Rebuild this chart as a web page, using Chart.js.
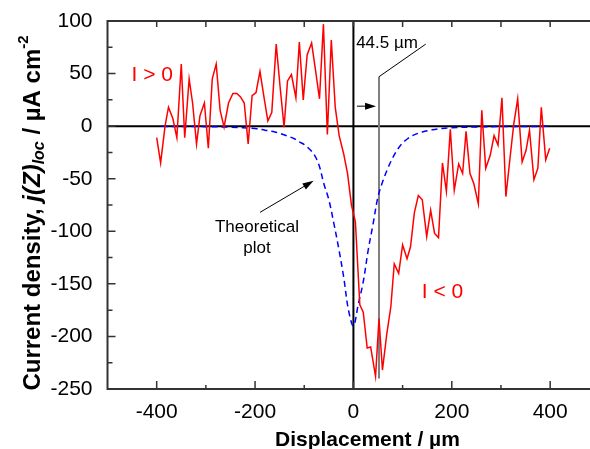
<!DOCTYPE html>
<html>
<head>
<meta charset="utf-8">
<script src="https://cdn.jsdelivr.net/npm/chart.js@4/dist/chart.umd.min.js"></script>
<style>
  body { margin: 0; background: #fff; }
  #wrap { width: 590px; height: 449px; }
</style>
</head>
<body>
<div id="wrap"><canvas id="chart" width="590" height="449"></canvas></div>
<script>
// measured current density (red)
const redX = [-400, -392, -383, -376, -367, -359, -350, -343, -334, -327, -319, -312, -303, -295, -287, -279, -271, -263, -254, -245,
  -237, -230, -222, -214, -206, -198, -190, -182, -174, -166, -157, -149, -141, -134, -126, -117, -110, -102, -94, -85,
  -77, -69, -61, -53, -45, -37, -29, -20, -12, -4, 4, 13, 20, 28, 35, 45, 52, 59, 68, 76,
  83, 92, 100, 109, 116, 124, 132, 140, 149, 157, 165, 173, 181, 189, 197, 205, 214, 222, 229, 237,
  245, 254, 261, 269, 278, 286, 294, 302, 310, 318, 326, 334, 343, 351, 358, 367, 375, 382, 391, 399];
const redY = [-11, -35, 0, 18, 7, -11, 59, -11, 45, 22, -17, 10, 22, -21, 45, 59, 15, -1, 22, 31,
  31, 28, 22, -17, 29, 32, 52, 28, 5, 13, 78, 37, -1, 43, 49, 27, 80, 25, 68, 79,
  53, 26, 97, -8, 82, 18, -9, -26, -45, -75, -91, -170, -177, -211, -210, -238, -183, -232, -197, -172,
  -131, -140, -113, -126, -115, -82, -66, -70, -105, -80, -102, -106, -35, -62, -3, -61, -36, -45, -5, -45,
  -55, -74, 15, -40, -28, -9, -18, 27, -67, -32, 2, 26, -34, -23, -4, -51, -40, 18, -32, -21];

// theoretical plot (blue dashed)
const blueX = [-390, -300, -250, -200, -180, -160, -140, -120, -110, -100, -90, -80, -70, -60, -50, -40, -30, -20, -10, 0,
  10, 20, 30, 40, 50, 60, 70, 80, 90, 100, 110, 120, 140, 160, 180, 200, 250, 300, 400];
const blueY = [-0.2, -0.5, -1, -2.2, -3.8, -5.5, -8.5, -12, -15, -17.5, -21.5, -27, -37, -55, -70, -92, -116, -143, -175, -190,
  -169, -148, -118, -93, -67, -52, -40, -30, -22, -16, -12, -9, -5.5, -3.5, -2.2, -1.5, -0.8, -0.4, -0.2];

const xTickVals = [-400, -200, 0, 200, 400];
const yTickVals = [-250, -200, -150, -100, -50, 0, 50, 100];

// 44.5 um marker
const markX = [52, 52, 147];
const markY = [-240, 47, 78];

const pts = (xs, ys) => xs.map((x, i) => ({ x: x, y: ys[i] }));

const FONT = "'Liberation Sans', Arial, sans-serif";

function arrow(ctx, x1, y1, x2, y2) {
  const a = Math.atan2(y2 - y1, x2 - x1);
  ctx.beginPath();
  ctx.moveTo(x1, y1);
  ctx.lineTo(x2 - 8 * Math.cos(a), y2 - 8 * Math.sin(a));
  ctx.stroke();
  ctx.beginPath();
  ctx.moveTo(x2, y2);
  ctx.lineTo(x2 - 11 * Math.cos(a) + 3.5 * Math.sin(a), y2 - 11 * Math.sin(a) - 3.5 * Math.cos(a));
  ctx.lineTo(x2 - 11 * Math.cos(a) - 3.5 * Math.sin(a), y2 - 11 * Math.sin(a) + 3.5 * Math.cos(a));
  ctx.closePath();
  ctx.fill();
}

const decor = {
  id: "decor",
  afterDraw(chart) {
    const ctx = chart.ctx;
    const xs = chart.scales.x, ys = chart.scales.y;
    const a = chart.chartArea;
    ctx.save();
    // frame
    ctx.strokeStyle = "#333";
    ctx.lineWidth = 2;
    ctx.beginPath();
    ctx.moveTo(a.right + 2, a.top);
    ctx.lineTo(a.left, a.top);
    ctx.lineTo(a.left, a.bottom);
    ctx.lineTo(a.right + 2, a.bottom);
    ctx.stroke();
    // inward ticks
    ctx.lineWidth = 1.5;
    ctx.beginPath();
    for (let v = -400; v <= 400; v += 100) {
      const px = xs.getPixelForValue(v);
      const len = v % 200 === 0 ? 8 : 4;
      ctx.moveTo(px, a.bottom);
      ctx.lineTo(px, a.bottom - len);
      ctx.moveTo(px, a.top);
      ctx.lineTo(px, a.top + 6);
    }
    for (let v = -225; v <= 100; v += 25) {
      const py = ys.getPixelForValue(v);
      const len = v % 50 === 0 ? 8 : 5;
      ctx.moveTo(a.left, py);
      ctx.lineTo(a.left + len, py);
    }
    ctx.stroke();

    // annotations
    ctx.fillStyle = "#000";
    ctx.strokeStyle = "#000";
    ctx.lineWidth = 1;
    arrow(ctx, xs.getPixelForValue(7), ys.getPixelForValue(19), xs.getPixelForValue(46), ys.getPixelForValue(19));
    arrow(ctx, xs.getPixelForValue(-190), ys.getPixelForValue(-82), xs.getPixelForValue(-81), ys.getPixelForValue(-52));

    ctx.font = "17px " + FONT;
    ctx.textBaseline = "middle";
    ctx.textAlign = "left";
    ctx.fillText("44.5 \u00b5m", xs.getPixelForValue(5.5), ys.getPixelForValue(79));
    ctx.textAlign = "center";
    ctx.fillText("Theoretical", xs.getPixelForValue(-196), ys.getPixelForValue(-96));
    ctx.fillText("plot", xs.getPixelForValue(-196), ys.getPixelForValue(-116.5));

    ctx.fillStyle = "#f00";
    ctx.font = "21px " + FONT;
    ctx.fillText("I > 0", xs.getPixelForValue(-409), ys.getPixelForValue(48));
    ctx.fillText("I < 0", xs.getPixelForValue(181), ys.getPixelForValue(-158));

    // x axis title
    ctx.fillStyle = "#000";
    ctx.font = "bold 21px " + FONT;
    ctx.fillText("Displacement / \u00b5m", xs.getPixelForValue(0) + 14, 440);

    // y axis title with italic and sub/superscript parts
    const parts = [
      { t: "Current density, ", f: "bold 24px " + FONT, dy: 0 },
      { t: "j(Z)", f: "italic bold 24px " + FONT, dy: 0 },
      { t: "loc", f: "italic bold 16px " + FONT, dy: 7 },
      { t: " / \u00b5A cm", f: "bold 24px " + FONT, dy: 0 },
      { t: "-2", f: "bold 15px " + FONT, dy: -9 }
    ];
    let total = 0;
    parts.forEach(p => { ctx.font = p.f; p.w = ctx.measureText(p.t).width; total += p.w; });
    ctx.translate(33, 213);
    ctx.rotate(-Math.PI / 2);
    ctx.textAlign = "left";
    let cx = -total / 2;
    parts.forEach(p => { ctx.font = p.f; ctx.fillText(p.t, cx, p.dy); cx += p.w; });
    ctx.restore();
  }
};

new Chart(document.getElementById("chart"), {
  type: "line",
  data: {
    datasets: [
      { data: pts(redX, redY), borderColor: "#f00", borderWidth: 1.5, pointRadius: 0, tension: 0 },
      { data: pts(blueX, blueY), borderColor: "#0000ff", borderWidth: 1.5, borderDash: [6, 4], pointRadius: 0, tension: 0.35 },
      { data: pts(markX, markY), borderColor: "#000", borderWidth: 1, pointRadius: 0, segment: { borderColor: c => c.p0DataIndex === 0 ? "#808080" : "#000", borderWidth: c => c.p0DataIndex === 0 ? 2 : 1 } },
      { data: [{ x: -500, y: 0 }, { x: 500, y: 0 }], borderColor: "#000", borderWidth: 2, pointRadius: 0 },
      { data: [{ x: 0, y: -250 }, { x: 0, y: 100 }], borderColor: "#000", borderWidth: 2, pointRadius: 0 }
    ]
  },
  options: {
    responsive: false,
    animation: false,
    layout: { padding: { top: 21, right: 0, left: 0, bottom: 0 } },
    plugins: { legend: { display: false }, tooltip: { enabled: false } },
    scales: {
      x: {
        type: "linear",
        min: -500,
        max: 481,
        afterBuildTicks: s => { s.ticks = xTickVals.map(v => ({ value: v })); },
        afterFit: s => { s.height = 60; },
        grid: { display: false },
        border: { display: false },
        ticks: { color: "#000", font: { family: FONT, size: 21 }, padding: 3, maxRotation: 0 }
      },
      y: {
        type: "linear",
        min: -250,
        max: 100,
        afterBuildTicks: s => { s.ticks = yTickVals.map(v => ({ value: v })); },
        afterFit: s => { s.width = 107.5; },
        grid: { display: false },
        border: { display: false },
        ticks: { color: "#000", font: { family: FONT, size: 21 }, padding: 7 }
      }
    }
  },
  plugins: [decor]
});
</script>
</body>
</html>
